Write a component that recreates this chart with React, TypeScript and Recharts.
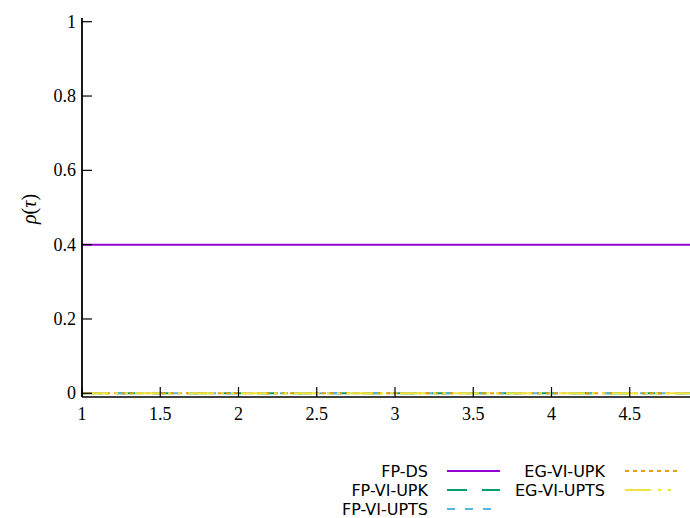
import { Line, LineChart, XAxis, YAxis } from "recharts";

const xPoints = [1, 5];
const fpDs = [0.4, 0.4];
const fpViUpk = [0, 0];
const fpViUpts = [0, 0];
const egViUpk = [0, 0];
const egViUpts = [0, 0];

const xTicks = [1, 1.5, 2, 2.5, 3, 3.5, 4, 4.5];
const yTicks = [0, 0.2, 0.4, 0.6, 0.8, 1];

const series = [
  { key: "fpDs", name: "FP-DS", color: "#9400d3", dash: undefined },
  { key: "fpViUpk", name: "FP-VI-UPK", color: "#009e73", dash: "20 15" },
  { key: "fpViUpts", name: "FP-VI-UPTS", color: "#56b4e9", dash: "8 10" },
  { key: "egViUpk", name: "EG-VI-UPK", color: "#e69f00", dash: "4 4" },
  { key: "egViUpts", name: "EG-VI-UPTS", color: "#f0e442", dash: "26 7 3 7 3 7" },
];

const data = xPoints.map((x, i) => ({
  x,
  fpDs: fpDs[i],
  fpViUpk: fpViUpk[i],
  fpViUpts: fpViUpts[i],
  egViUpk: egViUpk[i],
  egViUpts: egViUpts[i],
}));

const serif = "'Liberation Serif', serif";
const sans = "'DejaVu Sans', sans-serif";

function BottomTick({ x, y, payload }: any) {
  return (
    <g>
      <line x1={x} y1={y} x2={x} y2={y - 10} stroke="#000" strokeWidth={1.2} />
      <text x={x} y={y + 23} textAnchor="middle" fontFamily={serif} fontSize={18} fill="#000">
        {payload.value}
      </text>
    </g>
  );
}

function TopTick({ x, y }: any) {
  return <line x1={x} y1={y} x2={x} y2={y + 10} stroke="#000" strokeWidth={1.2} />;
}

function LeftTick({ x, y, payload }: any) {
  return (
    <g>
      <line x1={x} y1={y} x2={x + 10} y2={y} stroke="#000" strokeWidth={1.2} />
      <text x={x - 6} y={y + 6} textAnchor="end" fontFamily={serif} fontSize={18} fill="#000">
        {payload.value}
      </text>
    </g>
  );
}

// gnuplot-style key: two columns, filled top to bottom
function PlotLegend() {
  const cols = [
    { textRight: 428, lineX: 447 },
    { textRight: 605, lineX: 625 },
  ];
  const rows = [471, 490, 509];
  return (
    <svg width={690} height={518} style={{ position: "absolute", left: 0, top: 0, pointerEvents: "none" }}>
      {series.map((s, i) => {
        const col = cols[Math.floor(i / 3)];
        const cy = rows[i % 3];
        return (
          <g key={s.key}>
            <text x={col.textRight} y={cy + 6} textAnchor="end" fontFamily={sans} fontSize={16} fill="#000">
              {s.name}
            </text>
            <line x1={col.lineX} y1={cy} x2={col.lineX + 53} y2={cy} stroke={s.color} strokeWidth={2} strokeDasharray={s.dash} />
          </g>
        );
      })}
    </svg>
  );
}

export default function App() {
  return (
    <div style={{ position: "absolute", left: 0, top: 0, width: 690, height: 518, overflow: "hidden", background: "#fff" }}>
      <LineChart width={720} height={518} data={data} margin={{ top: 18, right: 12, bottom: 91, left: 22 }}>
        <XAxis
          xAxisId="bottom"
          dataKey="x"
          type="number"
          domain={[1, 5]}
          ticks={xTicks}
          allowDataOverflow
          height={30}
          tickSize={0}
          tickMargin={0}
          tickLine={false}
          axisLine={{ stroke: "#000", strokeWidth: 1.5 }}
          tick={<BottomTick />}
          interval={0}
        />
        <XAxis
          xAxisId="top"
          orientation="top"
          dataKey="x"
          type="number"
          domain={[1, 5]}
          ticks={xTicks}
          allowDataOverflow
          height={0}
          tickSize={0}
          tickMargin={0}
          tickLine={false}
          axisLine={{ stroke: "#000", strokeWidth: 1.5 }}
          tick={<TopTick />}
          interval={0}
        />
        <YAxis
          type="number"
          domain={[-0.01, 1.01]}
          ticks={yTicks}
          allowDataOverflow
          width={60}
          tickSize={0}
          tickMargin={0}
          tickLine={false}
          axisLine={{ stroke: "#000", strokeWidth: 1.8 }}
          tick={<LeftTick />}
          interval={0}
          label={{
            content: () => (
              <text
                x={29}
                y={209}
                transform="rotate(-90 29 209)"
                textAnchor="middle"
                dominantBaseline="central"
                fontFamily={serif}
                fontSize={20}
                fill="#000"
              >
                <tspan fontStyle="italic">ρ</tspan>
                <tspan>(</tspan>
                <tspan fontStyle="italic">τ</tspan>
                <tspan>)</tspan>
              </text>
            ),
          }}
        />
        {series.map((s) => (
          <Line
            key={s.key}
            xAxisId="bottom"
            type="linear"
            dataKey={s.key}
            name={s.name}
            stroke={s.color}
            strokeWidth={2}
            strokeDasharray={s.dash}
            dot={false}
            activeDot={false}
            isAnimationActive={false}
          />
        ))}
      </LineChart>
      <PlotLegend />
    </div>
  );
}
